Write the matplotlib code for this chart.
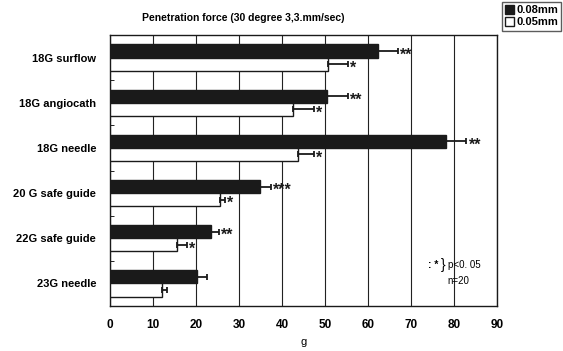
import matplotlib.pyplot as plt
from matplotlib.patches import Patch
import numpy as np

plt.rcParams['font.family'] = ['Liberation Sans', 'DejaVu Sans']
plt.rcParams['font.weight'] = 'bold'

categories = ['18G surflow', '18G angiocath', '18G needle',
              '20 G safe guide', '22G safe guide', '23G needle']
dark_vals = [62.3, 50.4, 78.1, 34.9, 23.4, 20.2]
dark_err = [4.6, 4.9, 4.8, 2.6, 2.0, 2.3]
white_vals = [50.7, 42.5, 43.8, 25.6, 15.6, 12.0]
white_err = [4.6, 4.9, 3.6, 1.2, 2.3, 1.2]
dark_marks = ['**', '**', '**', '***', '**', '']
white_marks = ['*', '*', '*', '*', '*', '']
xticks = [0, 10, 20, 30, 40, 50, 60, 70, 80, 90]

fig = plt.figure(figsize=(5.63, 3.51), dpi=100)
ax = fig.add_axes([110 / 563, 1 - 306 / 351, 387 / 563, 271 / 351])

y = np.arange(len(categories))
h = 0.29
zeros = np.zeros(len(categories))
ekw = dict(ecolor='#1a1a1a', lw=1.3, capsize=2.5, capthick=1.3)
ax.barh(y - h / 2, dark_vals, h, color='#1a1a1a', edgecolor='#1a1a1a',
        xerr=[zeros, dark_err], error_kw=ekw, label='0.08mm', zorder=3)
ax.barh(y + h / 2, white_vals, h, color='white', edgecolor='#1a1a1a', lw=1.0,
        xerr=[zeros, white_err], error_kw=ekw, label='0.05mm', zorder=3)

for i in range(len(categories)):
    if dark_marks[i]:
        ax.text(dark_vals[i] + dark_err[i] + 0.5, y[i] - h / 2 + 0.09, dark_marks[i],
                va='center', ha='left', fontsize=11.5, color='#1a1a1a', zorder=4)
    if white_marks[i]:
        ax.text(white_vals[i] + white_err[i] + 0.5, y[i] + h / 2 + 0.09, white_marks[i],
                va='center', ha='left', fontsize=11.5, color='#1a1a1a', zorder=4)

ax.set_xlim(0, 90)
ax.set_ylim(len(categories) - 0.5, -0.5)
ax.set_xticks(xticks)
ax.set_yticks(y)
ax.set_yticklabels(categories, fontsize=8)
ax.tick_params(axis='x', labelsize=8.5, length=0, pad=9)
ax.tick_params(axis='y', length=0, pad=10)
ax.set_yticks(np.arange(len(categories) - 1) + 0.5, minor=True)
ax.tick_params(axis='y', which='minor', length=3, direction='in')
ax.grid(axis='x', color='#222222', lw=0.8, zorder=0)
for s in ax.spines.values():
    s.set_linewidth(1.0)
    s.set_color('#1a1a1a')
ax.set_xlabel('g', fontsize=8, labelpad=5)

fig.text(243 / 563, 1 - 18 / 351, 'Penetration force (30 degree 3,3.mm/sec)',
         ha='center', va='center', fontsize=7.5)

handles = [Patch(facecolor='#1a1a1a', edgecolor='#1a1a1a', label='0.08mm'),
           Patch(facecolor='white', edgecolor='#1a1a1a', label='0.05mm')]
fig.legend(handles=handles, loc='upper right', bbox_to_anchor=(1.0, 1.0),
           fontsize=8, frameon=True, fancybox=False, edgecolor='#333333',
           handlelength=0.8, handleheight=0.8, handletextpad=0.2,
           borderpad=0.3, labelspacing=0.2, borderaxespad=0.15)

ax.text(0.822, 0.15, ': *', transform=ax.transAxes, fontsize=7.5, ha='left', va='center')
ax.text(0.855, 0.152, '}', transform=ax.transAxes, fontsize=10, ha='left', va='center',
        fontweight='normal')
ax.text(0.873, 0.15, 'p<0. 05', transform=ax.transAxes, fontsize=7, ha='left', va='center',
        fontweight='normal')
ax.text(0.873, 0.092, 'n=20', transform=ax.transAxes, fontsize=7, ha='left', va='center',
        fontweight='normal')

fig.savefig('out.png', dpi=100)
